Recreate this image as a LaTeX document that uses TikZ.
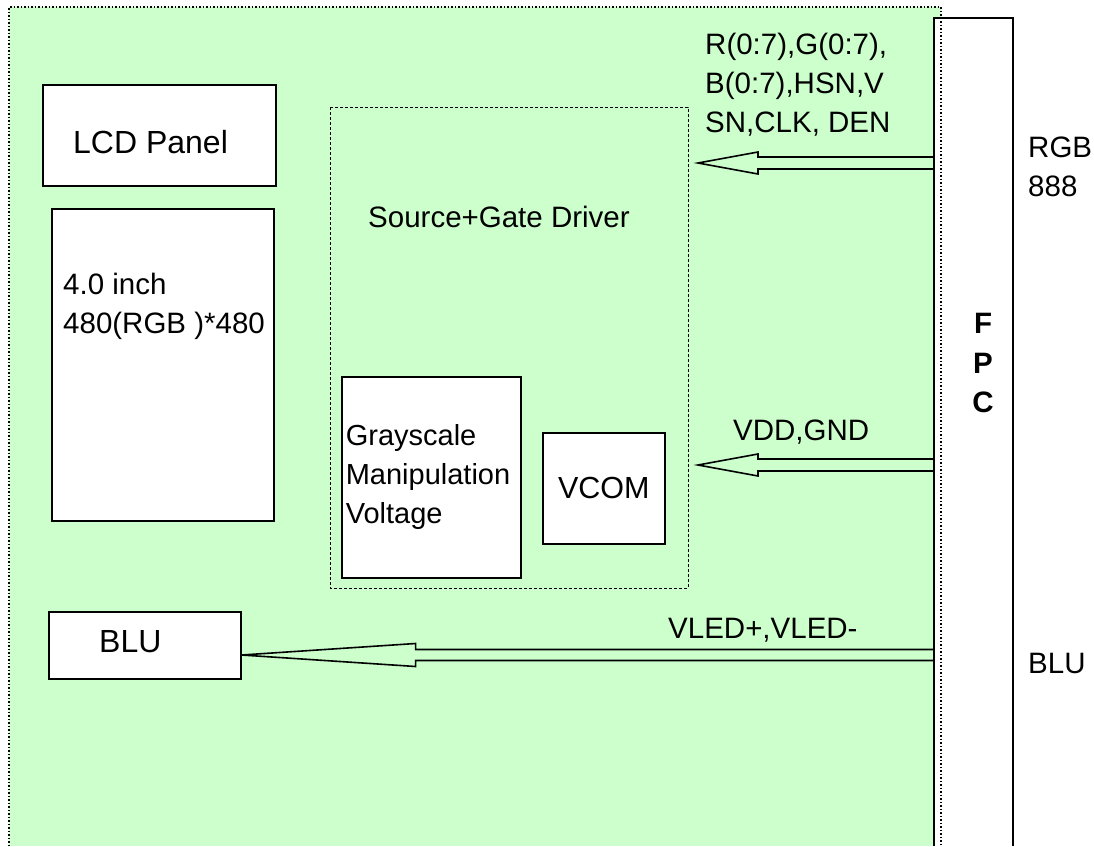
\documentclass[tikz,border=0pt]{standalone}
\usepackage{fontspec}
\setmainfont{Liberation Sans}
\usetikzlibrary{calc,positioning}
\definecolor{panelgreen}{RGB}{204,255,204}
\tikzset{every picture/.style={>=latex}}
\tikzset{
  block/.style={draw, line width=1.6pt, fill=white, inner sep=0pt, anchor=north west,
    font=\fontsize{29.5}{39}\selectfont},
  lbl/.style={inner sep=0pt, anchor=base west, align=left,
    font=\fontsize{29.5}{39}\selectfont},
  biglbl/.style={lbl, font=\fontsize{32}{39}\selectfont},
}
% hollow block arrow: tip, tail, shaft half width, head half width, head length
\newcommand\hollowarrow[5]{%
  \draw[line width=1.6pt, line join=miter, fill=panelgreen]
    (#1) -- ($(#1)+(#5,-#4)$) -- ($(#1)+(#5,-#3)$) -- ($(#2)+(0,-#3)$)
    -- ($(#2)+(0,#3)$) -- ($(#1)+(#5,#3)$) -- ($(#1)+(#5,#4)$) -- cycle;}

\begin{document}
\begin{tikzpicture}[x=1pt, y=-1pt]
    \useasboundingbox (0,0) rectangle (1094,846);

    % module area
    \fill[panelgreen] (9,7) rectangle (941,846);

    % flex connector
    \filldraw[fill=white, line width=1.6pt] (934,846) -- (934,18) -- (1013,18) -- (1013,846);
    \draw[dotted, line width=1.5pt] (9,846) -- (9,7) -- (941,7) -- (941,846);

    % panel blocks
    \node[block, minimum width=233, minimum height=101] (lcd) at (42,84) {};
    \node[block, minimum width=222, minimum height=312] (glass) at (51,208) {};
    \node[block, minimum width=192, minimum height=67] (blu) at (48,611) {};

    % driver IC
    \draw[dashed, dash pattern=on 3pt off 2pt, line width=1pt] (330,107) rectangle (688,588);
    \node[block, minimum width=179, minimum height=201, text width=171, inner xsep=4pt,
        align=left, font=\fontsize{29}{39}\selectfont] (gray) at (341,376)
        {Grayscale\\Manipulation\\Voltage};
    \node[block, minimum width=122, minimum height=111, font=\fontsize{30.5}{39}\selectfont]
        (vcom) at (542,432) {VCOM};

    % inputs on the connector
    \coordinate (rgb in) at (934,163);
    \coordinate (pwr in) at (934,465);
    \coordinate (led in) at (934,655);
    \coordinate (rgb tip) at (698,163);
    \coordinate (pwr tip) at (698,465);
    \coordinate (led tip) at (blu.east |- led in);

    \hollowarrow{rgb tip}{rgb in}{6}{11}{60}
    \hollowarrow{pwr tip}{pwr in}{6}{11}{60}
    \hollowarrow{led tip}{led in}{5.5}{11.5}{174}

    % labels
    \node[biglbl] (lcd txt) at (73,153) {LCD Panel};
    \node[biglbl] (blu txt) at (99,652) {BLU};
    \node[lbl] (glass txt) at (63,333.5) {4.0 inch\\480(RGB )*480};
    \node[lbl] (drv txt) at (368,227.5) {Source+Gate Driver};
    \node[lbl] (rgb txt) at (705,132.5) {R(0:7),G(0:7),\\B(0:7),HSN,V\\SN,CLK, DEN};
    \node[lbl] (pwr txt) at (733,440.5) {VDD,GND};
    \node[lbl] (led txt) at (668,638.5) {VLED+,VLED-};
    \node[lbl] (rgb side) at (1028,196.5) {RGB\\888};
    \node[lbl] (blu side) at (1028,673.5) {BLU};
    \node[lbl, anchor=base, align=center, font=\fontsize{29.5}{39.5}\selectfont\bfseries]
        (fpc txt) at (983,412.5) {F\\P\\C};
\end{tikzpicture}
\end{document}
